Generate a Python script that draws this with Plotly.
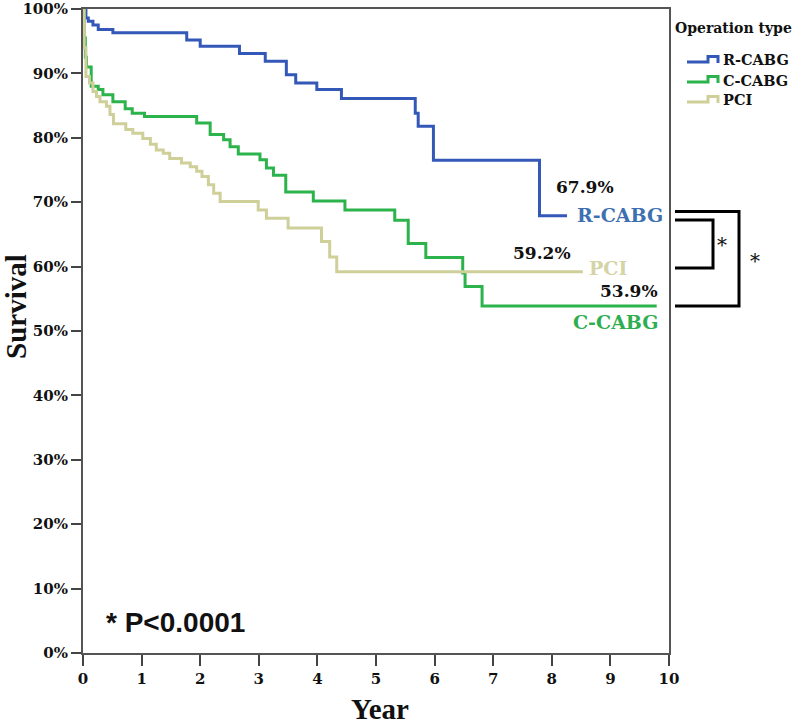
import plotly.graph_objects as go

# ---- data ----
groups = ["R-CABG", "C-CABG", "PCI"]

rcabg_t = [0, 0.05, 0.09, 0.17, 0.26, 0.51, 1.77, 2.00, 2.67, 3.11, 3.47, 3.63, 3.99, 4.41, 5.67, 5.72, 5.98, 7.79, 8.26]
rcabg_s = [100, 98.6, 98.1, 97.5, 96.8, 96.3, 95.2, 94.2, 93.1, 91.9, 89.8, 88.5, 87.5, 86.1, 83.8, 81.8, 76.5, 67.9, 67.9]

ccabg_t = [0, 0.02, 0.04, 0.06, 0.14, 0.26, 0.34, 0.51, 0.72, 0.84, 1.05, 1.94, 2.17, 2.40, 2.51, 2.65, 3.02, 3.13, 3.25,
           3.46, 3.93, 4.47, 5.32, 5.55, 5.85, 6.48, 6.52, 6.81, 9.79]
ccabg_s = [100, 95.5, 92.5, 91.0, 88.0, 87.5, 86.7, 85.6, 84.5, 83.8, 83.3, 82.3, 80.5, 79.7, 78.6, 77.5, 76.6, 75.3, 74.2,
           71.6, 70.2, 68.8, 67.2, 63.6, 61.4, 59.0, 56.9, 53.9, 53.9]

pci_t = [0, 0.02, 0.05, 0.11, 0.17, 0.23, 0.29, 0.40, 0.46, 0.52, 0.73, 0.85, 1.02, 1.15, 1.25, 1.37, 1.48, 1.68, 1.83, 1.94,
         2.03, 2.14, 2.23, 2.34, 2.99, 3.13, 3.50, 4.07, 4.21, 4.33, 8.53]
pci_s = [100, 94, 89.5, 88.5, 87.2, 86.4, 85.6, 84.9, 83.6, 82.2, 81.3, 80.7, 79.9, 79.0, 78.1, 77.6, 76.8, 76.1, 75.5, 74.8,
         74.0, 72.7, 71.4, 70.1, 68.8, 67.5, 66.0, 63.9, 61.5, 59.2, 59.2]

x_ticks = list(range(0, 11))
y_ticks = list(range(0, 101, 10))
p_text = "* P<0.0001"

# ---- styles ----
line_colors = {"R-CABG": "#3358b8", "C-CABG": "#2db34c", "PCI": "#cfcf99"}
label_colors = {"R-CABG": "#3d70b0", "C-CABG": "#2fae50", "PCI": "#d4d4a6"}
series = {"R-CABG": (rcabg_t, rcabg_s), "C-CABG": (ccabg_t, ccabg_s), "PCI": (pci_t, pci_s)}

W, H = 800, 728
L, R, T, B = 83, 131, 9, 75
PW, PH = W - L - R, H - T - B


def px2paper(px, py):
    return (px - L) / PW, (H - B - py) / PH


fig = go.Figure()
for g in groups:
    t, s = series[g]
    fig.add_trace(go.Scatter(x=t, y=s, mode="lines", line_shape="hv",
                             line=dict(color=line_colors[g], width=3), name=g, showlegend=False))

serif = "DejaVu Serif"
annotations = []
shapes = []

# end-value labels and group labels near curve ends
label_pos = {
    "R-CABG": ((585, 187), (620, 215)),
    "PCI": ((542, 253), (608, 268)),
    "C-CABG": ((629, 291), (616, 322)),
}
for g in groups:
    t, s = series[g]
    (vx, vy), (gx, gy) = label_pos[g]
    ax, ay = px2paper(vx, vy)
    annotations.append(dict(x=ax, y=ay, xref="paper", yref="paper", text=f"<b>{s[-1]:.1f}%</b>",
                            showarrow=False, font=dict(family=serif, size=17, color="#111"),
                            xanchor="center", yanchor="middle"))
    bx, by = px2paper(gx, gy)
    annotations.append(dict(x=bx, y=by, xref="paper", yref="paper", text=f"<b>{g}</b>",
                            showarrow=False, font=dict(family=serif, size=19, color=label_colors[g]),
                            xanchor="center", yanchor="middle"))

# significance brackets
def bracket(x0px, x1px, y0px, y1px):
    a0, b0 = px2paper(x0px, y0px)
    a1, b1 = px2paper(x1px, y1px)
    return dict(type="path", xref="paper", yref="paper",
                path=f"M {a0},{b0} L {a1},{b0} L {a1},{b1} L {a0},{b1}",
                line=dict(color="black", width=3))

shapes.append(bracket(675, 713, 220, 268))
shapes.append(bracket(675, 739, 211.5, 306))
for (sx, sy) in [(721.5, 245), (755, 261)]:
    a, b = px2paper(sx, sy)
    annotations.append(dict(x=a, y=b, xref="paper", yref="paper", text="*", showarrow=False,
                            font=dict(family=serif, size=20, color="#111"), xanchor="center", yanchor="middle"))

# legend (manual, step icons)
a, b = px2paper(673, 28)
annotations.append(dict(x=a, y=b, xref="paper", yref="paper", text="<b>Operation type</b>", showarrow=False,
                        font=dict(family=serif, size=14, color="#111"), xanchor="left", yanchor="middle"))
for i, g in enumerate(groups):
    yc = 60 + 20 * i
    pts = [(687, yc + 2), (708, yc + 2), (708, yc - 3.5), (718, yc - 3.5), (718, yc + 3)]
    pp = [px2paper(x, y) for x, y in pts]
    path = "M " + " L ".join(f"{p[0]},{p[1]}" for p in pp)
    shapes.append(dict(type="path", xref="paper", yref="paper", path=path,
                       line=dict(color=line_colors[g], width=3)))
    a, b = px2paper(721, yc)
    annotations.append(dict(x=a, y=b, xref="paper", yref="paper", text=f"<b>{g}</b>", showarrow=False,
                            font=dict(family=serif, size=14.5, color="#111"), xanchor="left", yanchor="middle"))

# p-value
a, b = px2paper(175, 622)
annotations.append(dict(x=a, y=b, xref="paper", yref="paper", text=f"<b>{p_text}</b>", showarrow=False,
                        font=dict(family="Liberation Sans", size=28, color="#111"), xanchor="center", yanchor="middle"))

# axis titles
a, b = px2paper(16, 307)
annotations.append(dict(x=a, y=b, xref="paper", yref="paper", text="<b>Survival</b>", showarrow=False,
                        textangle=-90, font=dict(family="Liberation Serif", size=29, color="#111"),
                        xanchor="center", yanchor="middle"))
a, b = px2paper(380, 727)
annotations.append(dict(x=a, y=b, xref="paper", yref="paper", text="<b>Year</b>", showarrow=False,
                        font=dict(family="Liberation Serif", size=29, color="#111"),
                        xanchor="center", yanchor="bottom"))

fig.update_layout(
    width=W, height=H,
    margin=dict(l=L, r=R, t=T, b=B, autoexpand=False),
    paper_bgcolor="white", plot_bgcolor="white",
    showlegend=False,
    annotations=annotations, shapes=shapes,
    xaxis=dict(range=[0, 10], tickvals=x_ticks, ticktext=[f"<b>{v}</b>" for v in x_ticks], automargin=False,
               showgrid=False, zeroline=False, showline=True, mirror=True, linecolor="#555", linewidth=2,
               ticks="outside", ticklen=11, tickwidth=2, tickcolor="#444",
               tickfont=dict(family=serif, size=15, color="#111")),
    yaxis=dict(range=[0, 100], tickvals=y_ticks, ticktext=[f"<b>{v}%</b>" for v in y_ticks], automargin=False,
               showgrid=False, zeroline=False, showline=True, mirror=True, linecolor="#555", linewidth=2,
               ticks="outside", ticklen=10, tickwidth=2, tickcolor="#444",
               tickfont=dict(family=serif, size=15, color="#111")),
)

# remove the browser's default 8px body margin so the figure sits at the page's top-left corner
fig.write_html("out.html", config={"displayModeBar": False},
               post_script="document.body.style.margin='0';")
